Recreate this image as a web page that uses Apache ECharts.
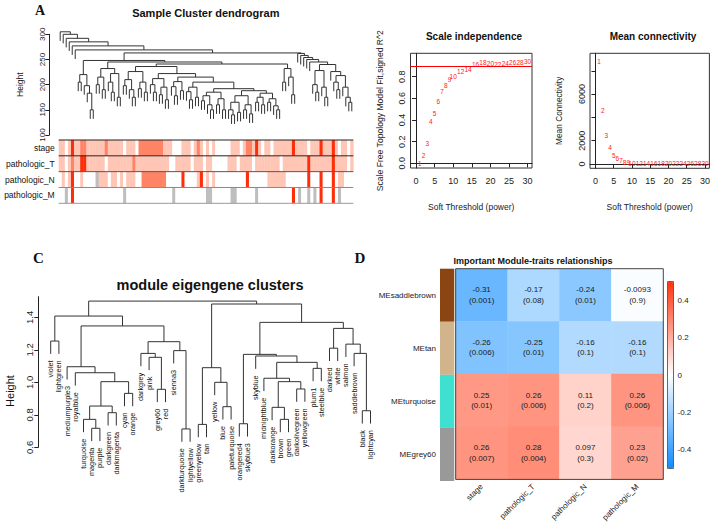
<!DOCTYPE html>
<html><head><meta charset="utf-8">
<script src="https://cdn.jsdelivr.net/npm/echarts@6/dist/echarts.min.js"></script>
<style>html,body{margin:0;padding:0;background:#fff}#c{width:713px;height:524px}</style>
</head><body><div id="c"></div>
<script>
// ================= DATA =================
// Panel A: sample clustering tree, node = [height, left, right], 0 = one sample leaf
const sampleTree = [305, 0, [300, 0, [292, 0, [285, 0, [277, 0, [269, 0,
  [263,
    [248,
      [220, [205, 0, 0], [198, 0, [183, 0, [150, 0, 0]]]],
      [245,
        [232, [215, [200, 0, 0], [190, 0, 0]], [222, [205, 0, [185, 0, 0]], [175, 0, 0]]],
        [241,
          [236,
            [226, [210, [198, 0, 0], [190, 0, [175, 0, 0]]], [205, [192, 0, 0], [185, 0, 0]]],
            [222,
              [212, [200, 0, [185, 0, 0]], [195, [180, 0, 0], [170, 0, 0]]],
              [215,
                [206, [196, 0, [178, 0, 0]], [188, 0, 0]],
                [205,
                  [195, [186, 0, [170, 0, 0]], [175, 0, 0]],
                  [192,
                    [185, [178, [168, 0, 0], [160, 0, [150, 0, 0]]], [172, [160, 0, 0], [150, 0, 0]]],
                    [188,
                      [178, [165, [150, 0, [140, 0, 0]], [145, 0, 0]], [160, [150, 0, 0], [142, 0, 0]]],
                      [183, [175, [165, 0, 0], [160, 0, 0]], [172, [165, 0, 0], [158, 0, [150, 0, 0]]]]
                    ]
                  ]
                ]
              ]
            ]
          ],
          [232, [205, 0, 0], [215, 0, [180, 0, 0]]]
        ]
      ]
    ],
    [262, 0, [258, 0, [254, 0, [250, 0, [245, 0,
      [240, [228, [200, 0, [185, 0, 0]], [195, 0, [175, 0, 0]]],
            [226, 0, [218, [205, 0, [190, 0, 0]], [195, 0, [175, 0, [165, 0, 0]]]]]]]]]]]
  ]]]]]]];
const sampleHang = 18;

// trait colour rows (one char per sample, in dendrogram order):
// 0 white, 1 light, 2 medium, 3 high, g = missing (grey)
const traitRows = ['stage', 'pathologic_T', 'pathologic_N', 'pathologic_M'];
const stageLevels = ['1101311221', '1111121111', '1011102222', '2222111000', '1110121010',
  '1000001110', '1221310110', '1111113111', '1011131113', '101101'].join('');
const pathTLevels = ['1101211331', '1111101111', '1111211111', '1111110011', '1110111011',
  '0000011101', '1110111111', '1101111111', '1311111113', '111101'].join('');
const pathNLevels = ['0101300100', '00g1110110', '1011100222', '2222200000', '3000013010',
  '1000000000', '0300000011', '1111000000', '0300030003', '011000'].join('');
const pathMLevels = ['00g0300000', '0000000000', '0g00000000', '0000000g00', '00000000gg',
  '000000gg00', '0000g00000', '00000030g0', '0g0g030003', '0g0000'].join('');

// Scale independence / mean connectivity
const powers = [1, 2, 3, 4, 5, 6, 7, 8, 9, 10, 12, 14, 16, 18, 20, 22, 24, 26, 28, 30];
const scaleFitR2 = [-0.006, 0.077, 0.185, 0.385, 0.46, 0.57, 0.66, 0.72, 0.77, 0.80, 0.85, 0.87, 0.91, 0.93, 0.92, 0.91, 0.92, 0.93, 0.93, 0.94];
const meanConnectivity = [8770, 4570, 2430, 1400, 770, 490, 260, 145, 115, 65, 40, 30, 25, 20, 15, 12, 10, 8, 6, 5];
const r2Cutoff = 0.9;
const powerTicks = [0, 5, 10, 15, 20, 25, 30];
const r2Ticks = [0, 0.2, 0.4, 0.6, 0.8];
const connTicks = [0, 2000, 4000, 6000, 8000];
const connLabelTicks = [0, 2000, 6000];

// Panel C: module eigengene tree
const moduleTree = [1.50,
  [1.408,
    [1.254, 'violet', 'lightgreen'],
    [1.347,
      [1.096, 'mediumpurple3',
        [1.059, 'royalblue',
          [1.004,
            [0.854,
              [0.772, 'turquoise', [0.717, 'magenta', 'purple']],
              [0.813, 'darkgreen', 'darkmagenta']],
            [0.932, 'cyan', 'orange']]]],
      [1.25,
        [1.178, 'darkgrey', [1.154, 'pink', [0.957, 'grey60', 'red']]],
        [1.195, 'sienna3', [0.713, 'darkturquoise', 'lightyellow']]]]],
  [1.482,
    [1.09,
      [0.741, 'greenyellow', 'tan'],
      [1.0, 'yellow', [0.85, 'blue', 'paleturquoise']]],
    [1.369,
      [1.172,
        [0.745, 'orangered4', 'skyblue3'],
        [1.162, 'skyblue',
          [1.123,
            [1.025, 'midnightblue',
              [1.004,
                [0.846, 'darkorange', [0.772, 'brown', 'green']],
                [0.959, 'darkolivegreen', 'yellowgreen']]],
            [1.086, 'plum1', 'steelblue']]]],
      [1.332,
        [1.21, 'darkred', 'white'],
        [1.235, 'salmon', [1.178, 'saddlebrown', [0.825, 'black', 'lightcyan']]]]]]];
const moduleHang = 0.079;
const heightTicksC = [0.6, 0.8, 1.0, 1.2, 1.4];

// Panel D: module-trait relationships
const heatRows = ['MEsaddlebrown', 'MEtan', 'MEturquoise', 'MEgrey60'];
const heatRowColors = ['#8B4513', '#D2B48C', '#40E0D0', '#999999'];
const heatCols = ['stage', 'pathologic_T', 'pathologic_N', 'pathologic_M'];
const corValues = [
  [-0.31, -0.17, -0.24, -0.0093],
  [-0.26, -0.25, -0.16, -0.16],
  [0.25, 0.26, 0.11, 0.26],
  [0.26, 0.28, 0.097, 0.23]];
const corText = [
  ['-0.31', '-0.17', '-0.24', '-0.0093'],
  ['-0.26', '-0.25', '-0.16', '-0.16'],
  ['0.25', '0.26', '0.11', '0.26'],
  ['0.26', '0.28', '0.097', '0.23']];
const pText = [
  ['0.001', '0.08', '0.01', '0.9'],
  ['0.006', '0.01', '0.1', '0.1'],
  ['0.01', '0.006', '0.2', '0.006'],
  ['0.007', '0.004', '0.3', '0.02']];
const colorbarTicks = [-0.4, -0.2, 0, 0.2, 0.4];

// ================= BUILD =================
const FONT = '"Liberation Sans", Arial, Helvetica, sans-serif';
function layoutDendro(tree, hang) {
  const segs = [], leaves = [];
  let idx = 0;
  function walk(n) {
    if (!Array.isArray(n)) { idx += 1; const lf = { x: idx, leaf: true, name: n }; leaves.push(lf); return lf; }
    const h = n[0], a = walk(n[1]), b = walk(n[2]);
    const ya = a.leaf ? (a.y = h - hang) : a.h;
    const yb = b.leaf ? (b.y = h - hang) : b.h;
    segs.push([a.x, ya, b.x, yb, h]);
    return { x: (a.x + b.x) / 2, h: h };
  }
  walk(tree);
  return { segs, leaves, n: idx };
}
const dA = layoutDendro(sampleTree, sampleHang);
const dC = layoutDendro(moduleTree, moduleHang);

function dendroRender(color) {
  return function (params, api) {
    const p1 = api.coord([api.value(0), api.value(1)]);
    const p2 = api.coord([api.value(0), api.value(4)]);
    const p3 = api.coord([api.value(2), api.value(4)]);
    const p4 = api.coord([api.value(2), api.value(3)]);
    return { type: 'polyline', shape: { points: [p1, p2, p3, p4] }, style: { stroke: color, lineWidth: 1, fill: null } };
  };
}

const rowStrings = [stageLevels, pathTLevels, pathNLevels, pathMLevels];
const nSamples = stageLevels.length;
const levelColors = { '0': '#FFFFFF', '1': '#FFC6B6', '2': '#FF8466', '3': '#FF2E0A', 'g': '#BEBEBE' };
const traitCells = [];
rowStrings.forEach((s, r) => { for (let i = 0; i < s.length; i++) traitCells.push([i + 1, r, s[i]]); });

const heatData = [];
const heatIdx = [];
heatRows.forEach((rn, r) => heatCols.forEach((cn, c) => { heatData.push([c, r, corValues[r][c]]); heatIdx.push([r, c]); }));

const plain = v => String(v).replace(/,/g, '');
const axisCol = '#222';
function rAxisY(grid, extra) {
  return Object.assign({
    gridIndex: grid, type: 'value', splitLine: { show: false },
    axisLine: { show: true, lineStyle: { color: axisCol, width: 1 } },
    axisTick: { show: true, length: 4, lineStyle: { color: axisCol } },
    axisLabel: { rotate: 90, fontSize: 9, color: axisCol, fontFamily: FONT, margin: 3 }
  }, extra);
}
const txt = (text, x, y, font, extra) => Object.assign({ type: 'text', x: x, y: y,
  style: { text: text, font: font, fill: '#111', align: 'center', verticalAlign: 'middle', textAlign: 'center', textVerticalAlign: 'middle' } }, extra || {});

const option = {
  animation: false,
  backgroundColor: '#fff',
  textStyle: { fontFamily: FONT },
  grid: [
    { left: 58.7, top: 34.3, width: 294.6, height: 100.7 },               // 0 A dendro
    { left: 58.7, top: 140, width: 294.6, height: 63.3 },                 // 1 A colours
    { left: 410.5, top: 53.3, width: 121.5, height: 114.7, show: true, borderColor: '#333', borderWidth: 1 }, // 2
    { left: 590, top: 53.3, width: 121.5, height: 115, show: true, borderColor: '#333', borderWidth: 1 },     // 3
    { left: 46.6, top: 296.7, width: 328, height: 150.6 },                // 4 C
    { left: 455.7, top: 268.7, width: 207.6, height: 212.3 },             // 5 heat
    { left: 440, top: 268.7, width: 14.3, height: 212.3 },                // 6 side colours
    { left: 667.5, top: 281.5, width: 6, height: 187, show: true, borderColor: '#444', borderWidth: 0.8, z: 10 } // 7 colorbar
  ],
  xAxis: [
    { gridIndex: 0, type: 'value', min: 0.5, max: dA.n + 0.5, show: false },
    { gridIndex: 1, type: 'value', min: 0.5, max: nSamples + 0.5, show: false },
    { gridIndex: 2, type: 'value', min: -1.5, max: 31.2, splitLine: { show: false },
      axisLine: { show: true, lineStyle: { color: axisCol } },
      axisTick: { show: true, length: 4, customValues: powerTicks, lineStyle: { color: axisCol } },
      axisLabel: { customValues: powerTicks, fontSize: 9, color: axisCol, margin: 8 },
      name: 'Soft Threshold (power)', nameLocation: 'middle', nameGap: 34, nameTextStyle: { fontSize: 8.5, color: axisCol } },
    { gridIndex: 3, type: 'value', min: -1.5, max: 31.2, splitLine: { show: false },
      axisLine: { show: true, lineStyle: { color: axisCol } },
      axisTick: { show: true, length: 4, customValues: powerTicks, lineStyle: { color: axisCol } },
      axisLabel: { customValues: powerTicks, fontSize: 9, color: axisCol, margin: 8 },
      name: 'Soft Threshold (power)', nameLocation: 'middle', nameGap: 34, nameTextStyle: { fontSize: 8.5, color: axisCol } },
    { gridIndex: 4, type: 'value', min: 0.5, max: dC.n + 0.5, show: false },
    { gridIndex: 5, type: 'category', data: heatCols, axisLine: { show: false }, axisTick: { show: false },
      axisLabel: { rotate: 45, fontSize: 8, color: '#222', margin: 6 } },
    { gridIndex: 6, type: 'value', min: 0, max: 1, show: false },
    { gridIndex: 7, type: 'value', min: 0, max: 1, show: false }
  ],
  yAxis: [
    rAxisY(0, { min: 100, max: 300, interval: 50, offset: 9.4, axisLabel: { rotate: 90, fontSize: 8, color: axisCol, margin: 3 },
      name: 'Height', nameLocation: 'middle', nameGap: 25, nameTextStyle: { fontSize: 8.5, color: axisCol } }),
    { gridIndex: 1, type: 'category', data: traitRows, inverse: true, axisLine: { show: false }, axisTick: { show: false },
      axisLabel: { fontSize: 8.5, color: '#111', margin: 4 } },
    rAxisY(2, { min: -0.043, max: 1.016, axisTick: { show: true, length: 4, customValues: r2Ticks, lineStyle: { color: axisCol } },
      axisLabel: { rotate: 90, fontSize: 9, color: axisCol, margin: 4, customValues: r2Ticks, formatter: v => Number(v).toFixed(1) },
      name: 'Scale Free Topology Model Fit,signed R^2', nameLocation: 'middle', nameGap: 26, nameTextStyle: { fontSize: 8.6, color: axisCol } }),
    rAxisY(3, { min: -369, max: 9502, axisTick: { show: true, length: 4, customValues: connTicks, lineStyle: { color: axisCol } },
      axisLabel: { show: true, rotate: 90, fontSize: 9, color: axisCol, margin: 4, customValues: connLabelTicks, formatter: plain },
      name: 'Mean Connectivity', nameLocation: 'middle', nameGap: 27, nameTextStyle: { fontSize: 8.3, color: axisCol } }),
    rAxisY(4, { min: 0.6, max: 1.527, offset: 8.3, axisTick: { show: true, length: 4, customValues: heightTicksC, lineStyle: { color: axisCol } },
      axisLabel: { rotate: 90, fontSize: 9.5, color: axisCol, margin: 4, customValues: heightTicksC, formatter: v => Number(v).toFixed(1) } }),
    { gridIndex: 5, type: 'category', data: heatRows, inverse: true, show: false },
    { gridIndex: 6, type: 'category', data: heatRows, inverse: true, axisLine: { show: false }, axisTick: { show: false },
      axisLabel: { fontSize: 8, color: '#222', margin: 4 } },
    { gridIndex: 7, type: 'value', min: -0.5, max: 0.5, position: 'right', splitLine: { show: false },
      axisLine: { show: false },
      axisTick: { show: true, length: 3, customValues: colorbarTicks, lineStyle: { color: '#333' } },
      axisLabel: { customValues: colorbarTicks, fontSize: 8, color: '#222', margin: 4, formatter: v => (Math.abs(Number(v)) < 1e-9 ? '0' : Number(v).toFixed(1)) } }
  ],
  visualMap: [{
    type: 'continuous', min: -0.5, max: 0.5, seriesIndex: 8, show: true, calculable: false,
    left: 667.5, top: 281.5, itemWidth: 6, itemHeight: 187, padding: 0, text: null, showLabel: false, z: 1,
    inRange: { color: ['#0D8CFF', '#FFFFFF', '#FF330D'] }
  }],
  series: [
    // 0 sample dendrogram
    { type: 'custom', xAxisIndex: 0, yAxisIndex: 0, clip: false, silent: true,
      encode: { x: [0, 2], y: [1, 3, 4] }, data: dA.segs, renderItem: dendroRender('#333') },
    // 1 trait colour cells
    { type: 'custom', xAxisIndex: 1, yAxisIndex: 1, silent: true, data: traitCells.map(d => [d[0], d[1]]),
      renderItem: function (params, api) {
        const c = api.coord([api.value(0), api.value(1)]);
        const s = api.size([1, 1]);
        const lv = traitCells[params.dataIndex][2];
        return { type: 'rect', shape: { x: c[0] - s[0] / 2, y: c[1] - s[1] / 2, width: s[0] + 0.4, height: s[1] },
          style: { fill: levelColors[lv] } };
      } },
    // 2 row separators
    { type: 'custom', xAxisIndex: 1, yAxisIndex: 1, silent: true, z: 5, data: traitRows.map((t, r) => [0.5, r]),
      renderItem: function (params, api) {
        const c = api.coord([0.5, api.value(1)]);
        const e = api.coord([nSamples + 0.5, api.value(1)]);
        const s = api.size([1, 1]);
        const cols = ['#222', '#222', '#555', '#888'];
        const kids = [{ type: 'line', shape: { x1: c[0], y1: c[1] - s[1] / 2, x2: e[0], y2: c[1] - s[1] / 2 }, style: { stroke: cols[params.dataIndex], lineWidth: 1 } }];
        if (params.dataIndex === traitRows.length - 1) kids.push({ type: 'line', shape: { x1: c[0], y1: c[1] + s[1] / 2, x2: e[0], y2: c[1] + s[1] / 2 }, style: { stroke: '#999', lineWidth: 1 } });
        return { type: 'group', children: kids };
      } },
    // 3 scale independence labels + cutoff line
    { type: 'custom', xAxisIndex: 2, yAxisIndex: 2, silent: true, data: powers.map((p, i) => [p, scaleFitR2[i]]),
      renderItem: function (params, api) {
        const c = api.coord([api.value(0), api.value(1)]);
        return { type: 'text', x: c[0], y: c[1], style: { text: String(powers[params.dataIndex]), fill: '#FF2020', font: '6.5px ' + FONT, align: 'center', verticalAlign: 'middle', textAlign: 'center', textVerticalAlign: 'middle' } };
      },
      markLine: { silent: true, symbol: 'none', label: { show: false }, lineStyle: { color: '#FF0000', type: 'solid', width: 1 }, data: [{ yAxis: r2Cutoff }] } },
    // 4 mean connectivity labels
    { type: 'custom', xAxisIndex: 3, yAxisIndex: 3, silent: true, data: powers.map((p, i) => [p, meanConnectivity[i]]),
      renderItem: function (params, api) {
        const c = api.coord([api.value(0), api.value(1)]);
        return { type: 'text', x: c[0], y: c[1], style: { text: String(powers[params.dataIndex]), fill: '#FF2020', font: '6.5px ' + FONT, align: 'center', verticalAlign: 'middle', textAlign: 'center', textVerticalAlign: 'middle' } };
      } },
    // 5 module dendrogram
    { type: 'custom', xAxisIndex: 4, yAxisIndex: 4, clip: false, silent: true,
      encode: { x: [0, 2], y: [1, 3, 4] }, data: dC.segs, renderItem: dendroRender('#333') },
    // 6 module leaf labels
    { type: 'custom', xAxisIndex: 4, yAxisIndex: 4, clip: false, silent: true, data: dC.leaves.map(l => [l.x, l.y]),
      renderItem: function (params, api) {
        const c = api.coord([api.value(0), api.value(1)]);
        return { type: 'text', x: c[0], y: c[1] + 6.5, rotation: Math.PI / 2,
          style: { text: dC.leaves[params.dataIndex].name, fill: '#111', font: '7.3px ' + FONT, align: 'right', verticalAlign: 'middle', textAlign: 'right', textVerticalAlign: 'middle' } };
      } },
    // 7 side colour bar
    { type: 'bar', xAxisIndex: 6, yAxisIndex: 6, silent: true, barWidth: '100%', barCategoryGap: 0,
      data: heatRowColors.map(col => ({ value: 1, itemStyle: { color: col } })) },
    // 8 heatmap
    { type: 'heatmap', xAxisIndex: 5, yAxisIndex: 5, silent: true, data: heatData,
      itemStyle: { borderWidth: 0 },
      label: { show: true, fontSize: 8, lineHeight: 10.5, color: '#1a1a1a', fontFamily: FONT,
        formatter: p => { const rc = heatIdx[p.dataIndex]; return corText[rc[0]][rc[1]] + '\n(' + pText[rc[0]][rc[1]] + ')'; } } },
    // 9 heatmap frame
    { type: 'custom', xAxisIndex: 5, yAxisIndex: 5, silent: true, z: 6, data: [[0, 0]],
      renderItem: function (params, api) {
        const c = api.coord([0, 0]);
        const s = api.size([1, 1]);
        return { type: 'rect', shape: { x: c[0] - s[0] / 2, y: c[1] - s[1] / 2, width: s[0] * heatCols.length, height: s[1] * heatRows.length },
          style: { fill: null, stroke: '#444', lineWidth: 1 } };
      } }
  ],
  graphic: [
    txt('A', 40, 10, 'bold 14px "Liberation Serif", "Times New Roman", serif'),
    txt('C', 38.5, 258, 'bold 15px "Liberation Serif", "Times New Roman", serif'),
    txt('D', 360, 258, 'bold 15px "Liberation Serif", "Times New Roman", serif'),
    txt('Sample Cluster dendrogram', 205.8, 13.3, 'bold 11px ' + FONT),
    txt('Scale independence', 474, 36, 'bold 10px ' + FONT),
    txt('Mean connectivity', 653, 36, 'bold 10px ' + FONT),
    txt('module eigengene clusters', 210, 285, 'bold 14.5px ' + FONT),
    txt('Important Module-traits relationships', 533, 261, 'bold 9px ' + FONT),
    txt('Height', 10, 391, '11px ' + FONT, { rotation: Math.PI / 2 })
  ]
};
const chart = echarts.init(document.getElementById('c'), null, { renderer: 'svg' });
chart.setOption(option);
</script>
</body></html>
